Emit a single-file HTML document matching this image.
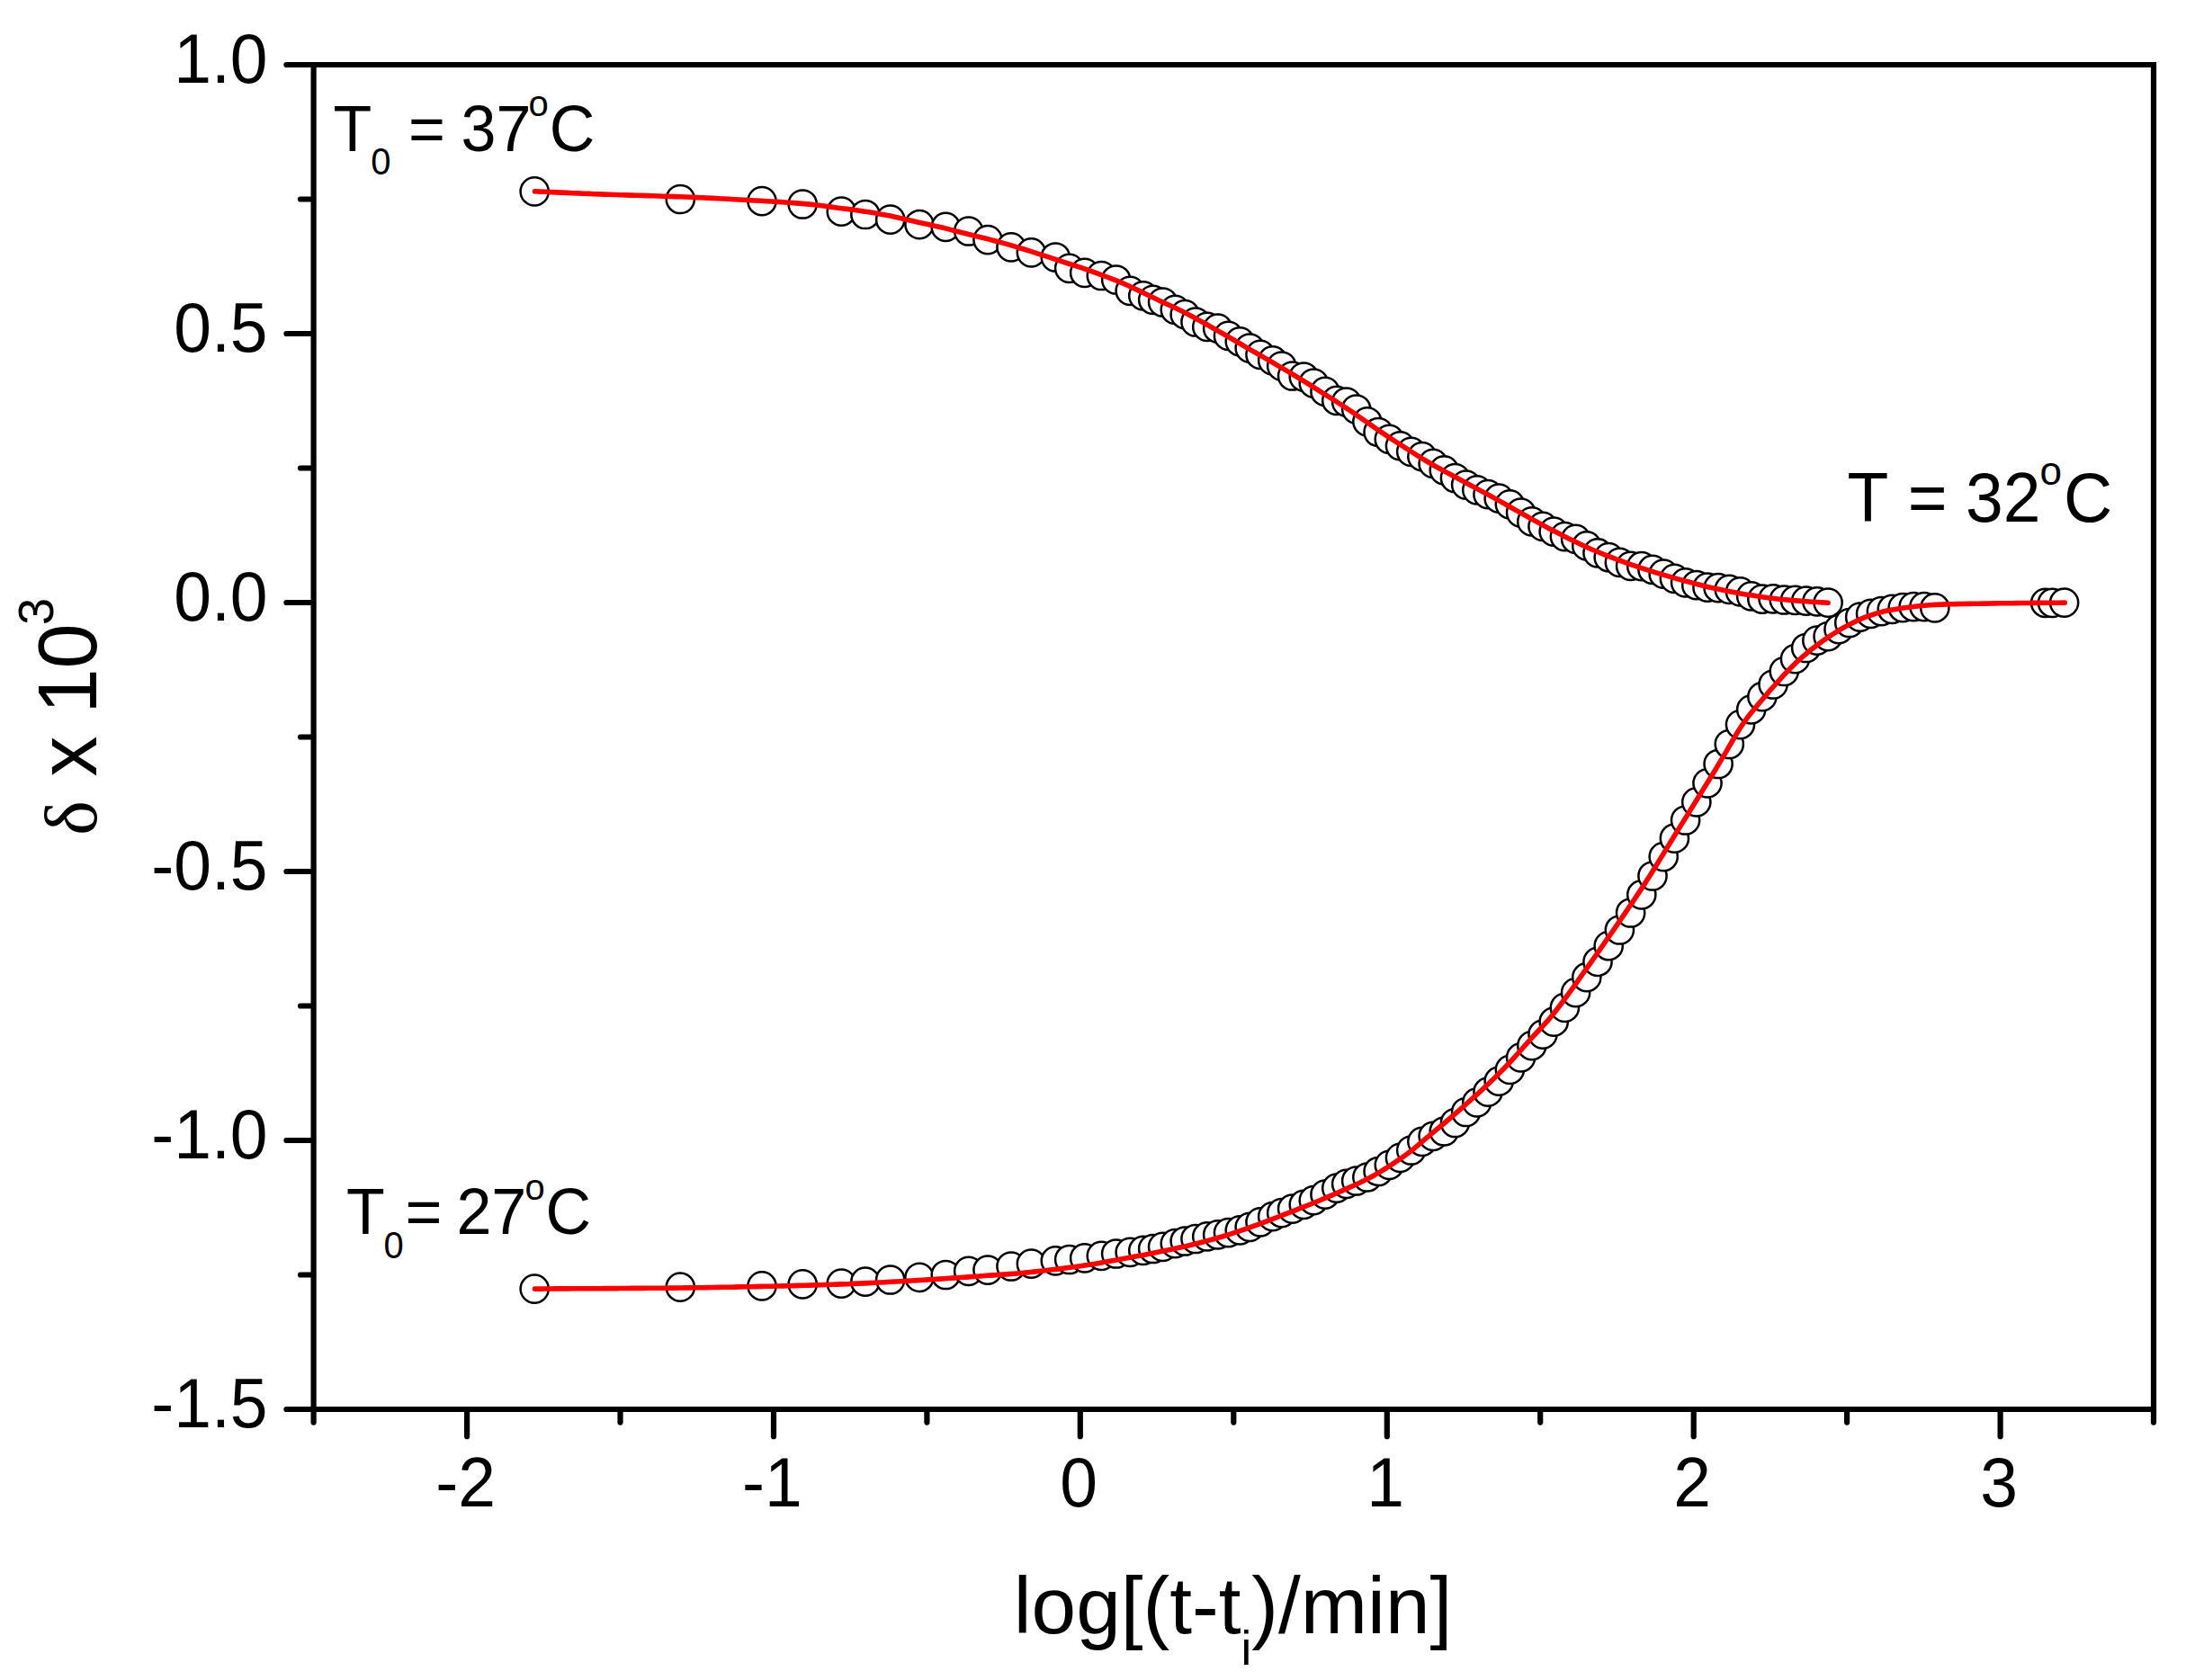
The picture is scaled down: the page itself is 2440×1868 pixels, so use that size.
<!DOCTYPE html>
<html lang="en"><head><meta charset="utf-8"><title>Volume relaxation: &#948; x 10^3 vs log[(t-ti)/min]</title>
<style>
html,body{margin:0;padding:0;background:#fff;}
body{width:2440px;height:1868px;overflow:hidden;}
svg{display:block;}
text{font-family:"Liberation Sans",Arial,Helvetica,sans-serif;fill:#000;}
.tk{font-size:75px;}
.ax{font-size:90px;}
.an{font-size:70px;}
.sym{font-family:"Liberation Serif","DejaVu Serif",serif;}
.fr{stroke:#000;stroke-width:6.2;fill:none;stroke-linecap:round;}
.pt circle{fill:#fff;stroke:#000;stroke-width:2.5;}
.fit{fill:none;stroke:#f00;stroke-width:5.6;stroke-linecap:round;stroke-linejoin:round;}
</style></head><body>
<svg width="2440" height="1868" viewBox="0 0 2440 1868">
<rect x="0" y="0" width="2440" height="1868" fill="#fff"/>
<g class="pt" id="top">
<circle cx="594.2" cy="212.9" r="15.6"/><circle cx="756.3" cy="221.5" r="15.6"/><circle cx="847.0" cy="223.7" r="15.6"/><circle cx="892.2" cy="227.0" r="15.6"/><circle cx="935.3" cy="235.2" r="15.6"/><circle cx="961.9" cy="238.5" r="15.6"/><circle cx="989.7" cy="244.2" r="15.6"/><circle cx="1022.0" cy="249.7" r="15.6"/><circle cx="1051.3" cy="252.4" r="15.6"/><circle cx="1076.7" cy="257.0" r="15.6"/><circle cx="1098.0" cy="266.6" r="15.6"/><circle cx="1124.0" cy="274.8" r="15.6"/><circle cx="1146.4" cy="280.8" r="15.6"/><circle cx="1173.3" cy="286.0" r="15.6"/><circle cx="1188.7" cy="298.3" r="15.6"/><circle cx="1205.7" cy="303.3" r="15.6"/><circle cx="1224.3" cy="306.5" r="15.6"/><circle cx="1240.7" cy="311.0" r="15.6"/><circle cx="1256.2" cy="323.3" r="15.6"/><circle cx="1270.8" cy="328.8" r="15.6"/><circle cx="1281.7" cy="333.3" r="15.6"/><circle cx="1292.6" cy="336.0" r="15.6"/><circle cx="1306.3" cy="344.3" r="15.6"/><circle cx="1317.2" cy="349.7" r="15.6"/><circle cx="1329.0" cy="358.0" r="15.6"/><circle cx="1341.8" cy="363.4" r="15.6"/><circle cx="1353.7" cy="365.2" r="15.6"/><circle cx="1365.5" cy="373.4" r="15.6"/><circle cx="1378.3" cy="379.8" r="15.6"/><circle cx="1389.2" cy="387.0" r="15.6"/><circle cx="1401.0" cy="394.4" r="15.6"/><circle cx="1414.7" cy="400.8" r="15.6"/><circle cx="1424.7" cy="407.0" r="15.6"/><circle cx="1436.6" cy="418.0" r="15.6"/><circle cx="1449.3" cy="419.0" r="15.6"/><circle cx="1460.3" cy="426.0" r="15.6"/><circle cx="1473.0" cy="435.4" r="15.6"/><circle cx="1485.8" cy="445.4" r="15.6"/><circle cx="1496.7" cy="447.0" r="15.6"/><circle cx="1507.7" cy="455.0" r="15.6"/><circle cx="1519.9" cy="468.8" r="15.6"/><circle cx="1532.1" cy="480.5" r="15.6"/><circle cx="1544.3" cy="488.3" r="15.6"/><circle cx="1556.5" cy="495.8" r="15.6"/><circle cx="1568.7" cy="502.3" r="15.6"/><circle cx="1580.9" cy="507.7" r="15.6"/><circle cx="1593.1" cy="515.3" r="15.6"/><circle cx="1605.3" cy="522.8" r="15.6"/><circle cx="1617.5" cy="531.5" r="15.6"/><circle cx="1629.7" cy="539.0" r="15.6"/><circle cx="1641.8" cy="544.8" r="15.6"/><circle cx="1654.0" cy="549.7" r="15.6"/><circle cx="1666.2" cy="554.2" r="15.6"/><circle cx="1678.4" cy="560.8" r="15.6"/><circle cx="1690.6" cy="570.0" r="15.6"/><circle cx="1702.8" cy="579.9" r="15.6"/><circle cx="1715.0" cy="585.3" r="15.6"/><circle cx="1727.2" cy="591.1" r="15.6"/><circle cx="1739.4" cy="596.6" r="15.6"/><circle cx="1751.6" cy="599.3" r="15.6"/><circle cx="1763.8" cy="606.9" r="15.6"/><circle cx="1776.0" cy="614.8" r="15.6"/><circle cx="1788.2" cy="619.7" r="15.6"/><circle cx="1800.4" cy="625.4" r="15.6"/><circle cx="1812.6" cy="629.3" r="15.6"/><circle cx="1824.8" cy="629.7" r="15.6"/><circle cx="1837.0" cy="633.4" r="15.6"/><circle cx="1849.2" cy="638.2" r="15.6"/><circle cx="1861.4" cy="643.3" r="15.6"/><circle cx="1873.6" cy="647.8" r="15.6"/><circle cx="1885.8" cy="650.7" r="15.6"/><circle cx="1898.0" cy="653.2" r="15.6"/><circle cx="1910.1" cy="653.7" r="15.6"/><circle cx="1922.3" cy="655.4" r="15.6"/><circle cx="1934.5" cy="657.9" r="15.6"/><circle cx="1946.7" cy="662.9" r="15.6"/><circle cx="1958.9" cy="666.2" r="15.6"/><circle cx="1971.1" cy="665.8" r="15.6"/><circle cx="1983.3" cy="667.0" r="15.6"/><circle cx="1995.5" cy="667.4" r="15.6"/><circle cx="2007.7" cy="668.1" r="15.6"/><circle cx="2019.9" cy="668.9" r="15.6"/><circle cx="2032.1" cy="670.1" r="15.6"/>
</g>
<g class="pt" id="bot">
<circle cx="594.2" cy="1433.1" r="15.6"/><circle cx="756.3" cy="1431.2" r="15.6"/><circle cx="847.0" cy="1429.9" r="15.6"/><circle cx="892.2" cy="1427.9" r="15.6"/><circle cx="935.3" cy="1427.1" r="15.6"/><circle cx="961.9" cy="1425.2" r="15.6"/><circle cx="989.7" cy="1423.0" r="15.6"/><circle cx="1022.0" cy="1420.3" r="15.6"/><circle cx="1051.3" cy="1417.5" r="15.6"/><circle cx="1076.7" cy="1413.4" r="15.6"/><circle cx="1098.0" cy="1412.1" r="15.6"/><circle cx="1124.0" cy="1408.0" r="15.6"/><circle cx="1146.4" cy="1405.2" r="15.6"/><circle cx="1173.3" cy="1401.8" r="15.6"/><circle cx="1188.7" cy="1400.5" r="15.6"/><circle cx="1205.7" cy="1398.9" r="15.6"/><circle cx="1224.3" cy="1396.4" r="15.6"/><circle cx="1240.7" cy="1394.0" r="15.6"/><circle cx="1256.2" cy="1392.3" r="15.6"/><circle cx="1270.8" cy="1390.3" r="15.6"/><circle cx="1281.7" cy="1388.5" r="15.6"/><circle cx="1292.6" cy="1386.3" r="15.6"/><circle cx="1306.3" cy="1382.6" r="15.6"/><circle cx="1317.2" cy="1380.0" r="15.6"/><circle cx="1329.0" cy="1377.5" r="15.6"/><circle cx="1341.8" cy="1374.9" r="15.6"/><circle cx="1353.7" cy="1372.9" r="15.6"/><circle cx="1365.5" cy="1370.6" r="15.6"/><circle cx="1378.3" cy="1367.9" r="15.6"/><circle cx="1389.2" cy="1364.3" r="15.6"/><circle cx="1401.0" cy="1358.8" r="15.6"/><circle cx="1414.7" cy="1352.7" r="15.6"/><circle cx="1424.7" cy="1348.7" r="15.6"/><circle cx="1436.6" cy="1344.1" r="15.6"/><circle cx="1449.3" cy="1339.4" r="15.6"/><circle cx="1460.3" cy="1334.7" r="15.6"/><circle cx="1473.0" cy="1328.2" r="15.6"/><circle cx="1485.8" cy="1321.1" r="15.6"/><circle cx="1496.7" cy="1316.3" r="15.6"/><circle cx="1507.7" cy="1313.0" r="15.6"/><circle cx="1519.9" cy="1309.0" r="15.6"/><circle cx="1532.1" cy="1302.5" r="15.6"/><circle cx="1544.3" cy="1295.3" r="15.6"/><circle cx="1556.5" cy="1287.4" r="15.6"/><circle cx="1568.7" cy="1279.0" r="15.6"/><circle cx="1580.9" cy="1269.3" r="15.6"/><circle cx="1593.1" cy="1263.4" r="15.6"/><circle cx="1605.3" cy="1258.0" r="15.6"/><circle cx="1617.5" cy="1248.5" r="15.6"/><circle cx="1629.7" cy="1236.5" r="15.6"/><circle cx="1641.8" cy="1225.8" r="15.6"/><circle cx="1654.0" cy="1214.2" r="15.6"/><circle cx="1666.2" cy="1202.2" r="15.6"/><circle cx="1678.4" cy="1189.3" r="15.6"/><circle cx="1690.6" cy="1175.8" r="15.6"/><circle cx="1702.8" cy="1162.7" r="15.6"/><circle cx="1715.0" cy="1150.1" r="15.6"/><circle cx="1727.2" cy="1136.2" r="15.6"/><circle cx="1739.4" cy="1120.4" r="15.6"/><circle cx="1751.6" cy="1103.7" r="15.6"/><circle cx="1763.8" cy="1086.7" r="15.6"/><circle cx="1776.0" cy="1069.4" r="15.6"/><circle cx="1788.2" cy="1051.7" r="15.6"/><circle cx="1800.4" cy="1034.0" r="15.6"/><circle cx="1812.6" cy="1015.0" r="15.6"/><circle cx="1824.8" cy="994.8" r="15.6"/><circle cx="1837.0" cy="974.0" r="15.6"/><circle cx="1849.2" cy="952.6" r="15.6"/><circle cx="1861.4" cy="932.2" r="15.6"/><circle cx="1873.6" cy="912.0" r="15.6"/><circle cx="1885.8" cy="891.8" r="15.6"/><circle cx="1898.0" cy="870.8" r="15.6"/><circle cx="1910.1" cy="849.5" r="15.6"/><circle cx="1922.3" cy="827.5" r="15.6"/><circle cx="1934.5" cy="805.6" r="15.6"/><circle cx="1946.7" cy="788.9" r="15.6"/><circle cx="1958.9" cy="774.7" r="15.6"/><circle cx="1971.1" cy="761.0" r="15.6"/><circle cx="1983.3" cy="746.5" r="15.6"/><circle cx="1995.5" cy="732.7" r="15.6"/><circle cx="2007.7" cy="720.5" r="15.6"/><circle cx="2019.9" cy="712.2" r="15.6"/><circle cx="2032.1" cy="707.6" r="15.6"/><circle cx="2044.0" cy="699.7" r="15.6"/><circle cx="2055.8" cy="692.5" r="15.6"/><circle cx="2067.7" cy="686.2" r="15.6"/><circle cx="2079.6" cy="682.4" r="15.6"/><circle cx="2091.4" cy="679.7" r="15.6"/><circle cx="2103.3" cy="677.3" r="15.6"/><circle cx="2115.2" cy="675.6" r="15.6"/><circle cx="2127.1" cy="674.7" r="15.6"/><circle cx="2138.9" cy="674.6" r="15.6"/><circle cx="2150.8" cy="675.9" r="15.6"/><circle cx="2273.6" cy="670.3" r="15.6"/><circle cx="2281.5" cy="670.3" r="15.6"/><circle cx="2294.6" cy="670.1" r="15.6"/>
</g>
<polyline class="fit" points="594.5,212.8 600.5,213.1 606.5,213.3 612.5,213.6 618.5,213.9 624.5,214.1 630.4,214.4 636.4,214.7 642.4,214.9 648.4,215.2 654.4,215.4 660.4,215.7 666.4,215.9 672.4,216.1 678.4,216.3 684.4,216.5 690.3,216.7 696.3,216.9 702.3,217.1 708.3,217.2 714.3,217.4 720.3,217.6 726.3,217.8 732.3,218.0 738.3,218.2 744.2,218.4 750.2,218.6 756.2,218.8 762.2,219.0 768.2,219.3 774.2,219.6 780.2,219.8 786.2,220.1 792.2,220.4 798.2,220.7 804.1,221.0 810.1,221.3 816.1,221.7 822.1,222.0 828.1,222.3 834.1,222.7 840.1,223.0 846.1,223.3 852.1,223.7 858.1,224.0 864.0,224.4 870.0,224.8 876.0,225.2 882.0,225.6 888.0,226.1 894.0,226.6 900.0,227.1 906.0,227.8 912.0,228.5 918.0,229.3 924.0,230.1 929.9,230.9 935.9,231.7 941.9,232.4 947.9,233.2 953.9,234.0 959.9,234.9 965.9,235.8 971.9,236.8 977.9,237.9 983.9,239.0 989.8,240.1 995.8,241.4 1001.8,242.7 1007.8,244.2 1013.8,245.6 1019.8,247.0 1025.8,248.3 1031.8,249.6 1037.8,250.9 1043.8,252.3 1049.7,253.6 1055.7,255.1 1061.7,256.7 1067.7,258.3 1073.7,259.8 1079.7,261.3 1085.7,262.8 1091.7,264.2 1097.7,265.6 1103.6,267.2 1109.6,268.8 1115.6,270.4 1121.6,272.1 1127.6,273.9 1133.6,275.7 1139.6,277.5 1145.6,279.4 1151.6,281.3 1157.6,283.3 1163.5,285.2 1169.5,287.2 1175.5,289.2 1181.5,291.1 1187.5,293.0 1193.5,294.9 1199.5,296.9 1205.5,298.9 1211.5,301.0 1217.5,303.1 1223.5,305.3 1229.4,307.5 1235.4,309.8 1241.4,312.2 1247.4,314.7 1253.4,317.3 1259.4,320.1 1265.4,322.9 1271.4,325.8 1277.4,328.7 1283.3,331.5 1289.3,334.4 1295.3,337.2 1301.3,340.0 1307.3,342.8 1313.3,345.8 1319.3,348.8 1325.3,351.9 1331.3,355.2 1337.3,358.5 1343.2,361.8 1349.2,365.2 1355.2,368.6 1361.2,372.0 1367.2,375.5 1373.2,379.0 1379.2,382.5 1385.2,386.1 1391.2,389.6 1397.2,393.0 1403.2,396.4 1409.1,399.9 1415.1,403.3 1421.1,406.8 1427.1,410.3 1433.1,413.8 1439.1,417.5 1445.1,421.1 1451.1,424.8 1457.1,428.5 1463.0,432.3 1469.0,436.1 1475.0,439.8 1481.0,443.6 1487.0,447.5 1493.0,451.4 1499.0,455.3 1505.0,459.4 1511.0,463.6 1517.0,467.8 1523.0,471.9 1528.9,476.0 1534.9,480.1 1540.9,484.1 1546.9,488.1 1552.9,492.0 1558.9,495.9 1564.9,499.7 1570.9,503.5 1576.9,507.3 1582.8,511.0 1588.8,514.5 1594.8,518.0 1600.8,521.3 1606.8,524.6 1612.8,527.8 1618.8,531.0 1624.8,534.2 1630.8,537.5 1636.8,540.7 1642.7,543.9 1648.7,547.1 1654.7,550.3 1660.7,553.6 1666.7,556.9 1672.7,560.3 1678.7,563.7 1684.7,567.1 1690.7,570.4 1696.7,573.8 1702.7,577.1 1708.6,580.4 1714.6,583.6 1720.6,586.9 1726.6,590.0 1732.6,593.1 1738.6,596.2 1744.6,599.2 1750.6,602.1 1756.6,605.0 1762.5,607.8 1768.5,610.5 1774.5,613.0 1780.5,615.5 1786.5,617.9 1792.5,620.2 1798.5,622.5 1804.5,624.6 1810.5,626.8 1816.5,628.8 1822.5,630.8 1828.4,632.8 1834.4,634.7 1840.4,636.6 1846.4,638.4 1852.4,640.1 1858.4,641.9 1864.4,643.6 1870.4,645.2 1876.4,646.8 1882.3,648.4 1888.3,650.0 1894.3,651.5 1900.3,652.9 1906.3,654.3 1912.3,655.5 1918.3,656.8 1924.3,658.0 1930.3,659.1 1936.3,660.2 1942.2,661.2 1948.2,662.1 1954.2,663.0 1960.2,663.9 1966.2,664.7 1972.2,665.5 1978.2,666.2 1984.2,666.8 1990.2,667.4 1996.2,667.9 2002.2,668.4 2008.1,668.8 2014.1,669.2 2020.1,669.5 2026.1,669.9 2032.1,670.3"/>
<polyline class="fit" points="594.5,1433.1 600.5,1433.1 606.5,1433.0 612.5,1433.0 618.5,1432.9 624.4,1432.9 630.4,1432.9 636.4,1432.8 642.4,1432.8 648.4,1432.8 654.4,1432.7 660.4,1432.7 666.4,1432.7 672.3,1432.6 678.3,1432.6 684.3,1432.6 690.3,1432.5 696.3,1432.5 702.3,1432.4 708.3,1432.4 714.3,1432.4 720.3,1432.3 726.2,1432.3 732.2,1432.2 738.2,1432.2 744.2,1432.1 750.2,1432.1 756.2,1432.0 762.2,1431.9 768.2,1431.9 774.2,1431.8 780.1,1431.7 786.1,1431.6 792.1,1431.5 798.1,1431.4 804.1,1431.3 810.1,1431.2 816.1,1431.1 822.1,1430.9 828.0,1430.8 834.0,1430.7 840.0,1430.6 846.0,1430.4 852.0,1430.3 858.0,1430.2 864.0,1430.0 870.0,1429.9 876.0,1429.7 881.9,1429.6 887.9,1429.4 893.9,1429.2 899.9,1429.1 905.9,1428.9 911.9,1428.7 917.9,1428.5 923.9,1428.3 929.8,1428.1 935.8,1427.9 941.8,1427.7 947.8,1427.4 953.8,1427.1 959.8,1426.9 965.8,1426.6 971.8,1426.3 977.8,1426.0 983.7,1425.7 989.7,1425.3 995.7,1425.0 1001.7,1424.7 1007.7,1424.3 1013.7,1424.0 1019.7,1423.6 1025.7,1423.3 1031.7,1422.9 1037.6,1422.5 1043.6,1422.1 1049.6,1421.7 1055.6,1421.3 1061.6,1420.9 1067.6,1420.5 1073.6,1420.1 1079.6,1419.6 1085.5,1419.2 1091.5,1418.8 1097.5,1418.3 1103.5,1417.9 1109.5,1417.5 1115.5,1417.1 1121.5,1416.6 1127.5,1416.2 1133.5,1415.7 1139.4,1415.1 1145.4,1414.5 1151.4,1413.9 1157.4,1413.2 1163.4,1412.5 1169.4,1411.8 1175.4,1411.1 1181.4,1410.4 1187.3,1409.6 1193.3,1408.8 1199.3,1408.0 1205.3,1407.1 1211.3,1406.2 1217.3,1405.2 1223.3,1404.2 1229.3,1403.1 1235.3,1402.0 1241.2,1400.9 1247.2,1399.8 1253.2,1398.7 1259.2,1397.6 1265.2,1396.5 1271.2,1395.4 1277.2,1394.2 1283.2,1393.0 1289.2,1391.8 1295.1,1390.6 1301.1,1389.4 1307.1,1388.1 1313.1,1386.8 1319.1,1385.4 1325.1,1384.0 1331.1,1382.5 1337.1,1381.0 1343.0,1379.4 1349.0,1377.7 1355.0,1376.0 1361.0,1374.2 1367.0,1372.3 1373.0,1370.4 1379.0,1368.4 1385.0,1366.3 1391.0,1364.2 1396.9,1362.1 1402.9,1359.9 1408.9,1357.6 1414.9,1355.4 1420.9,1353.0 1426.9,1350.7 1432.9,1348.4 1438.9,1346.1 1444.8,1343.7 1450.8,1341.4 1456.8,1339.0 1462.8,1336.5 1468.8,1334.0 1474.8,1331.4 1480.8,1328.9 1486.8,1326.2 1492.8,1323.6 1498.7,1320.9 1504.7,1318.2 1510.7,1315.5 1516.7,1312.6 1522.7,1309.5 1528.7,1306.2 1534.7,1302.7 1540.7,1299.0 1546.7,1295.1 1552.6,1291.1 1558.6,1287.0 1564.6,1282.8 1570.6,1278.1 1576.6,1273.1 1582.6,1267.9 1588.6,1262.8 1594.6,1257.8 1600.5,1253.0 1606.5,1248.0 1612.5,1242.9 1618.5,1237.6 1624.5,1232.3 1630.5,1227.0 1636.5,1221.7 1642.5,1216.3 1648.5,1210.8 1654.4,1205.2 1660.4,1199.5 1666.4,1193.6 1672.4,1187.5 1678.4,1181.2 1684.4,1174.7 1690.4,1168.0 1696.4,1161.2 1702.4,1154.5 1708.3,1148.0 1714.3,1141.7 1720.3,1135.1 1726.3,1128.0 1732.3,1120.3 1738.3,1112.3 1744.3,1104.2 1750.3,1095.8 1756.2,1087.3 1762.2,1078.9 1768.2,1070.5 1774.2,1062.0 1780.2,1053.4 1786.2,1044.7 1792.2,1036.1 1798.2,1027.4 1804.2,1018.7 1810.1,1009.9 1816.1,1001.1 1822.1,992.1 1828.1,982.9 1834.1,973.5 1840.1,963.9 1846.1,954.1 1852.1,944.4 1858.0,934.7 1864.0,925.1 1870.0,915.4 1876.0,905.7 1882.0,896.0 1888.0,886.3 1894.0,876.6 1900.0,867.0 1906.0,857.3 1911.9,847.4 1917.9,837.4 1923.9,827.0 1929.9,816.8 1935.9,807.1 1941.9,798.6 1947.9,791.0 1953.9,783.9 1959.9,776.7 1965.8,769.7 1971.8,763.0 1977.8,756.3 1983.8,749.7 1989.8,743.4 1995.8,737.4 2001.8,732.0 2007.8,726.8 2013.7,721.9 2019.7,717.4 2025.7,713.0 2031.7,708.9 2037.7,705.0 2043.7,701.2 2049.7,697.6 2055.7,694.4 2061.7,691.4 2067.6,688.6 2073.6,686.2 2079.6,684.1 2085.6,682.1 2091.6,680.5 2097.6,679.1 2103.6,677.9 2109.6,676.9 2115.5,676.0 2121.5,675.2 2127.5,674.5 2133.5,673.8 2139.5,673.2 2145.5,672.7 2151.5,672.4 2157.5,672.1 2163.5,671.9 2169.4,671.8 2175.4,671.6 2181.4,671.5 2187.4,671.4 2193.4,671.3 2199.4,671.2 2205.4,671.1 2211.4,671.0 2217.4,670.9 2223.3,670.8 2229.3,670.7 2235.3,670.7 2241.3,670.6 2247.3,670.5 2253.3,670.5 2259.3,670.4 2265.3,670.4 2271.2,670.3 2277.2,670.3 2283.2,670.2 2289.2,670.2 2295.2,670.1"/>
<g class="fr">
<path d="M348.6 72.0H2394.0V1570.1" stroke-linejoin="miter" stroke-linecap="butt"/>
<path d="M348.6 68.9V1567.0" stroke-linecap="butt"/>
<path d="M348.6 1567.0H2394.0" stroke-linecap="butt"/>
<path d="M347.1 72.0H318.4"/>
<path d="M347.1 221.5H334.0"/>
<path d="M347.1 371.0H318.4"/>
<path d="M347.1 520.5H334.0"/>
<path d="M347.1 670.0H318.4"/>
<path d="M347.1 819.5H334.0"/>
<path d="M347.1 969.0H318.4"/>
<path d="M347.1 1118.5H334.0"/>
<path d="M347.1 1268.0H318.4"/>
<path d="M347.1 1417.5H334.0"/>
<path d="M347.1 1567.0H318.4"/>
<path d="M348.6 1568.5V1581.6"/>
<path d="M519.1 1568.5V1597.2"/>
<path d="M689.5 1568.5V1581.6"/>
<path d="M860.0 1568.5V1597.2"/>
<path d="M1030.4 1568.5V1581.6"/>
<path d="M1200.8 1568.5V1597.2"/>
<path d="M1371.3 1568.5V1581.6"/>
<path d="M1541.8 1568.5V1597.2"/>
<path d="M1712.2 1568.5V1581.6"/>
<path d="M1882.7 1568.5V1597.2"/>
<path d="M2053.1 1568.5V1581.6"/>
<path d="M2223.6 1568.5V1597.2"/>
<path d="M2394.0 1568.5V1581.6"/>
</g>
<g class="tk" text-anchor="end">
<text transform="translate(297.5 92.2) scale(1 1.04)">1.0</text>
<text transform="translate(297.5 391.2) scale(1 1.04)">0.5</text>
<text transform="translate(297.5 690.2) scale(1 1.04)">0.0</text>
<text transform="translate(297.5 989.2) scale(1 1.04)">-0.5</text>
<text transform="translate(297.5 1288.2) scale(1 1.04)">-1.0</text>
<text transform="translate(297.5 1587.2) scale(1 1.04)">-1.5</text>
</g>
<g class="tk" text-anchor="middle">
<text transform="translate(517.5 1675.3) scale(1 1.04)">-2</text>
<text transform="translate(858.4 1675.3) scale(1 1.04)">-1</text>
<text transform="translate(1199.2 1675.3) scale(1 1.04)">0</text>
<text transform="translate(1540.2 1675.3) scale(1 1.04)">1</text>
<text transform="translate(1881.1 1675.3) scale(1 1.04)">2</text>
<text transform="translate(2222.0 1675.3) scale(1 1.04)">3</text>
</g>
<text class="ax" style="font-size:89.2px" x="1126.8" y="1816">log[(t-t<tspan font-size="53" dy="34.8">i</tspan><tspan dy="-34.8">)/min]</tspan></text>
<g transform="translate(107 931) rotate(-90)">
<text class="sym" font-size="82" x="2.3" y="0">&#948;</text>
<text class="ax" transform="translate(67.4 0) scale(1 1.04)">x 10<tspan font-size="54" dx="-1.5" dy="-46.4">3</tspan></text>
</g>
<g id="lab37">
<text font-size="70" transform="translate(370.4 168.0) scale(1 1.04)">T</text>
<text font-size="40" transform="translate(412.3 194.3) scale(1 1.04)">0</text>
<text font-size="70" transform="translate(454.0 168.0) scale(1 1.04)">=</text>
<text font-size="70" transform="translate(512.6 168.0) scale(1 1.04)">37</text>
<text font-size="40" transform="translate(587.5 129.4) scale(1 1)">o</text>
<text font-size="70" transform="translate(610.8 168.0) scale(1 1.04)">C</text>
</g>
<g id="lab27">
<text font-size="70" transform="translate(385.1 1372.4) scale(1 1.04)">T</text>
<text font-size="40" transform="translate(426.6 1398.9) scale(1 1.04)">0</text>
<text font-size="70" transform="translate(450.6 1372.4) scale(1 1.04)">=</text>
<text font-size="70" transform="translate(507.4 1372.4) scale(1 1.04)">27</text>
<text font-size="40" transform="translate(583.6 1334.2) scale(1 1)">o</text>
<text font-size="70" transform="translate(606.4 1372.4) scale(1 1.04)">C</text>
</g>
<g id="lab32">
<text font-size="75" transform="translate(2053.5 579.8) scale(1 1.04)">T</text>
<text font-size="75" transform="translate(2120.8 579.8) scale(1 1.04)">=</text>
<text font-size="75" transform="translate(2185.1 579.8) scale(1 1.04)">32</text>
<text font-size="44" transform="translate(2267.5 538.5) scale(1 1)">o</text>
<text font-size="75" transform="translate(2293.9 579.8) scale(1 1.04)">C</text>
</g>
</svg></body></html>
